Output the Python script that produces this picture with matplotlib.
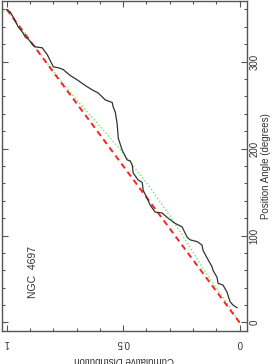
import matplotlib
matplotlib.use("Agg")
import matplotlib.pyplot as plt
import numpy as np

plt.rcParams['font.family'] = ['Liberation Sans', 'DejaVu Sans']

# Observed cumulative distribution of position angles (NGC 4697)
pa_obs = [360, 357, 351, 340, 334, 328, 326, 319, 317, 316, 308, 294, 293, 291,
          284, 279, 275, 271, 267, 264, 256, 253, 248, 242, 229, 212, 198, 187,
          186, 181, 172, 164, 161, 152, 143, 135, 127, 126, 120, 114, 110, 98,
          95, 93, 89, 83, 74, 64, 60, 52, 45, 43, 35, 24, 20, 17]
cum_obs = [1.000, 0.985, 0.972, 0.951, 0.933, 0.920, 0.908, 0.886, 0.878, 0.848,
           0.826, 0.800, 0.779, 0.758, 0.727, 0.697, 0.676, 0.654, 0.629, 0.607,
           0.577, 0.547, 0.543, 0.534, 0.526, 0.521, 0.504, 0.483, 0.470, 0.461,
           0.457, 0.436, 0.418, 0.414, 0.397, 0.384, 0.363, 0.333, 0.307, 0.277,
           0.247, 0.225, 0.212, 0.182, 0.161, 0.157, 0.139, 0.118, 0.114, 0.097,
           0.092, 0.071, 0.054, 0.041, 0.028, 0.011]

# Uniform distribution (red dashed)
pa_uni = [0, 360]
cum_uni = [0.0, 1.0]

# Model distribution (green dotted)
pa_mod = [0, 20, 37, 60, 93, 120, 156, 200, 230, 258, 280, 320, 355]
cum_mod = [0.0, 0.048, 0.093, 0.152, 0.228, 0.293, 0.386, 0.516, 0.614, 0.707,
           0.773, 0.889, 0.986]

label_name = "NGC  4697"
xticks = [1, 0.5, 0]
xticklabels = ["1", "0.5", "0"]
yticks = [0, 100, 200, 300]
yticklabels = ["0", "100", "200", "300"]

grey = '#555555'
fig = plt.figure(figsize=(2.73, 3.64), dpi=100)
ax = fig.add_axes([2 / 273, 1 - 331 / 364, (247 - 2) / 273, (331 - 0.8) / 364])

ax.plot(cum_mod, pa_mod, color='#66ee66', linestyle=(0, (1, 1.6)), lw=1.0)
ax.plot(cum_uni, pa_uni, color='#ff2020', linestyle=(0, (3, 2.2)), lw=1.4)
ax.plot(cum_obs, pa_obs, color='#333333', lw=0.9)

ax.set_xlim(1.0206, -0.032)
ax.set_ylim(-9.8, 370)

ax.set_xticks(xticks)
ax.set_xticklabels(xticklabels, rotation=180)
ax.set_xticks(np.arange(0, 1.01, 0.1), minor=True)
ax.set_yticks(yticks)
ax.set_yticklabels(yticklabels, rotation=90, va='center')
ax.set_yticks(np.arange(0, 361, 20), minor=True)

ax.yaxis.tick_right()
ax.yaxis.set_label_position('right')
ax.tick_params(which='both', direction='in', top=True, bottom=True, left=True,
               right=True, labelleft=False, labelright=True, color=grey,
               labelcolor='#333333', labelsize=7)
ax.tick_params(which='major', length=4.5, width=0.8, pad=2)
ax.tick_params(which='minor', length=2.3, width=0.8)
ax.tick_params(axis='x', which='major', pad=5)
for s in ax.spines.values():
    s.set_color(grey)
    s.set_linewidth(1.0)

ax.set_ylabel("Position Angle (degrees)", rotation=90, fontsize=7,
              color='#333333', labelpad=1)
ax.set_xlabel("Cumulative Distribution", rotation=180, fontsize=7,
              color='#333333', labelpad=5)

ax.text(0.886, 58, label_name, rotation=90, fontsize=7.5, color='#333333',
        ha='center', va='center')

fig.savefig('out.png', dpi=100)
